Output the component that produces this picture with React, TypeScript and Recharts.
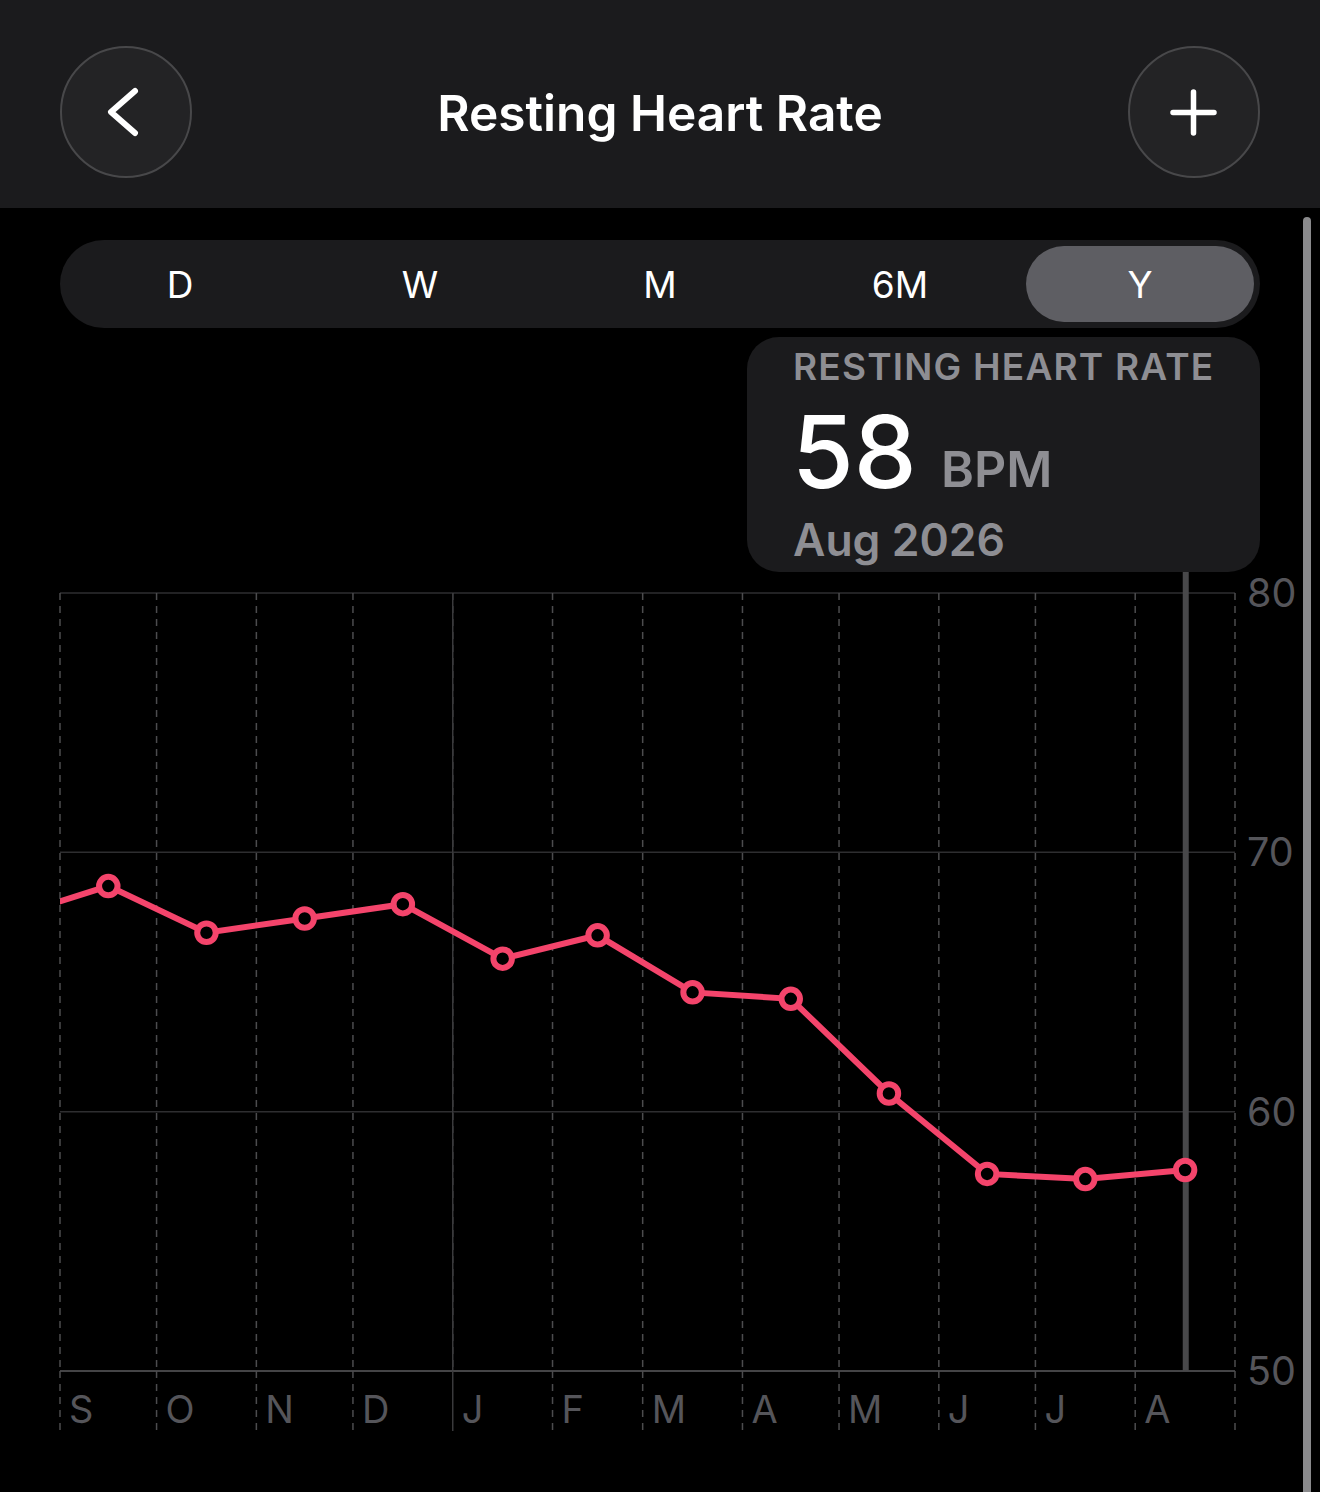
import { LineChart, Line, XAxis, YAxis, CartesianGrid, ReferenceLine } from 'recharts'

// days since 1 Sep, the first entry sits before the window and gets clipped
const pointDays = [-15.5, 15, 45.5, 76, 106.5, 137.5, 167, 196.5, 227, 257.5, 288, 318.5, 349.5]
const bpmValues = [67.5, 68.7, 66.9, 67.45, 68.0, 65.9, 66.8, 64.6, 64.35, 60.7, 57.6, 57.4, 57.75]
const monthStarts = [0, 30, 61, 91, 122, 153, 181, 212, 242, 273, 303, 334, 365]
const monthLabels = ['S', 'O', 'N', 'D', 'J', 'F', 'M', 'A', 'M', 'J', 'J', 'A', '']
const yTicks = [50, 60, 70, 80]
const ranges = ['D', 'W', 'M', '6M', 'Y']
const rangeCenters = [180, 420, 660, 900, 1140]

const chartData = pointDays.map((day, i) => ({ day, bpm: bpmValues[i] }))

const FONT = 'Inter, sans-serif'
const PINK = '#F4446B'
const JAN = 122
const SELECTED_DAY = 349.7

function MonthTick({ x, y, index, payload }: any) {
  const solid = payload.value === JAN
  return (
    <g>
      <line
        x1={x}
        x2={x}
        y1={y}
        y2={y + 60}
        stroke={solid ? '#3a3a3c' : '#4c4c4e'}
        strokeWidth={1.5}
        strokeDasharray={solid ? undefined : '7 6'}
      />
      <text x={x + 9} y={y + 52} fill="#55555a" fontSize={38} fontFamily={FONT}>
        {monthLabels[index]}
      </text>
    </g>
  )
}

function RoundButton({ left, children }: { left: number; children: any }) {
  return (
    <div
      style={{
        position: 'absolute',
        left,
        top: 46,
        width: 132,
        height: 132,
        boxSizing: 'border-box',
        borderRadius: '50%',
        background: '#232325',
        border: '2.5px solid #48484a',
      }}
    >
      <svg width={127} height={127} style={{ display: 'block' }}>
        {children}
      </svg>
    </div>
  )
}

export default function App() {
  return (
    <div
      style={{
        position: 'absolute',
        left: 0,
        top: 0,
        width: 1320,
        height: 1492,
        background: '#000',
        overflow: 'hidden',
        fontFamily: FONT,
      }}
    >
      <div style={{ position: 'absolute', left: 0, top: 0, width: 1320, height: 208, background: '#1b1b1d' }} />
      <RoundButton left={60}>
        <polyline
          points="73,43 49,64 73,85"
          fill="none"
          stroke="#fff"
          strokeWidth={6}
          strokeLinecap="round"
          strokeLinejoin="round"
        />
      </RoundButton>
      <RoundButton left={1128}>
        <path d="M63.5,44 V85 M43,64.5 H84" fill="none" stroke="#fff" strokeWidth={5.5} strokeLinecap="round" />
      </RoundButton>
      <div
        style={{
          position: 'absolute',
          left: 0,
          width: 1320,
          top: 84,
          textAlign: 'center',
          color: '#fff',
          fontSize: 49.6,
          lineHeight: '58px',
          fontWeight: 600,
        }}
      >
        Resting Heart Rate
      </div>

      <div style={{ position: 'absolute', left: 60, top: 240, width: 1200, height: 88, borderRadius: 44, background: '#1b1b1d' }} />
      <div style={{ position: 'absolute', left: 1026, top: 246, width: 228, height: 76, borderRadius: 38, background: '#5e5e63' }} />
      {ranges.map((r, i) => (
        <div
          key={r}
          style={{
            position: 'absolute',
            left: rangeCenters[i] - 60,
            width: 120,
            top: 263,
            textAlign: 'center',
            color: '#fff',
            fontSize: 37,
            lineHeight: '44px',
          }}
        >
          {r}
        </div>
      ))}

      <div style={{ position: 'absolute', left: 747, top: 337, width: 513, height: 235, borderRadius: 32, background: '#1b1b1d' }} />
      <div
        style={{
          position: 'absolute',
          left: 793,
          top: 345,
          color: '#8e8e93',
          fontSize: 37,
          lineHeight: '44px',
          fontWeight: 600,
          letterSpacing: 1.2,
          whiteSpace: 'nowrap',
        }}
      >
        RESTING HEART RATE
      </div>
      <div style={{ position: 'absolute', left: 792, top: 392, color: '#fff', fontSize: 100, lineHeight: '120px', fontWeight: 500 }}>58</div>
      <div style={{ position: 'absolute', left: 941, top: 440, color: '#8e8e93', fontSize: 50, lineHeight: '58px', fontWeight: 600 }}>BPM</div>
      <div style={{ position: 'absolute', left: 793, top: 514, color: '#8e8e93', fontSize: 44.5, lineHeight: '52px', fontWeight: 600 }}>Aug 2026</div>

      <div style={{ position: 'absolute', left: 0, top: 540 }}>
        <LineChart
          width={1320}
          height={952}
          data={chartData}
          margin={{ top: 53, right: 0, bottom: 61, left: 60 }}
        >
          <CartesianGrid horizontal vertical={false} stroke="#2e2e30" strokeWidth={1.5} />
          <CartesianGrid horizontal={false} vertical stroke="#4c4c4e" strokeWidth={1.5} strokeDasharray="7 6" />
          <XAxis
            dataKey="day"
            type="number"
            domain={[0, 365]}
            allowDataOverflow
            ticks={monthStarts}
            interval={0}
            height={60}
            axisLine={false}
            tickLine={false}
            tickSize={0}
            tickMargin={0}
            tick={<MonthTick />}
          />
          <YAxis
            orientation="right"
            domain={[50, 80]}
            ticks={yTicks}
            width={85}
            axisLine={false}
            tickLine={false}
            tickSize={0}
            tickMargin={12}
            tick={{ fill: '#55555a', fontSize: 39.5, fontFamily: FONT }}
          />
          <ReferenceLine x={JAN} stroke="#3a3a3c" strokeWidth={1.5} />
          <ReferenceLine y={50} stroke="#444446" strokeWidth={2} />
          <ReferenceLine
            ifOverflow="visible"
            segment={[
              { x: SELECTED_DAY, y: 50 },
              { x: SELECTED_DAY, y: 80.81 },
            ]}
            stroke="#48484a"
            strokeWidth={6}
          />
          <Line
            dataKey="bpm"
            type="linear"
            stroke={PINK}
            strokeWidth={6}
            dot={{ r: 9.25, fill: '#000', stroke: PINK, strokeWidth: 6 }}
            isAnimationActive={false}
          />
        </LineChart>
      </div>

      <div
        style={{
          position: 'absolute',
          left: 1303,
          top: 217,
          width: 8,
          height: 1275,
          background: '#8a8a8c',
          borderRadius: '4px 4px 0 0',
        }}
      />
    </div>
  )
}
